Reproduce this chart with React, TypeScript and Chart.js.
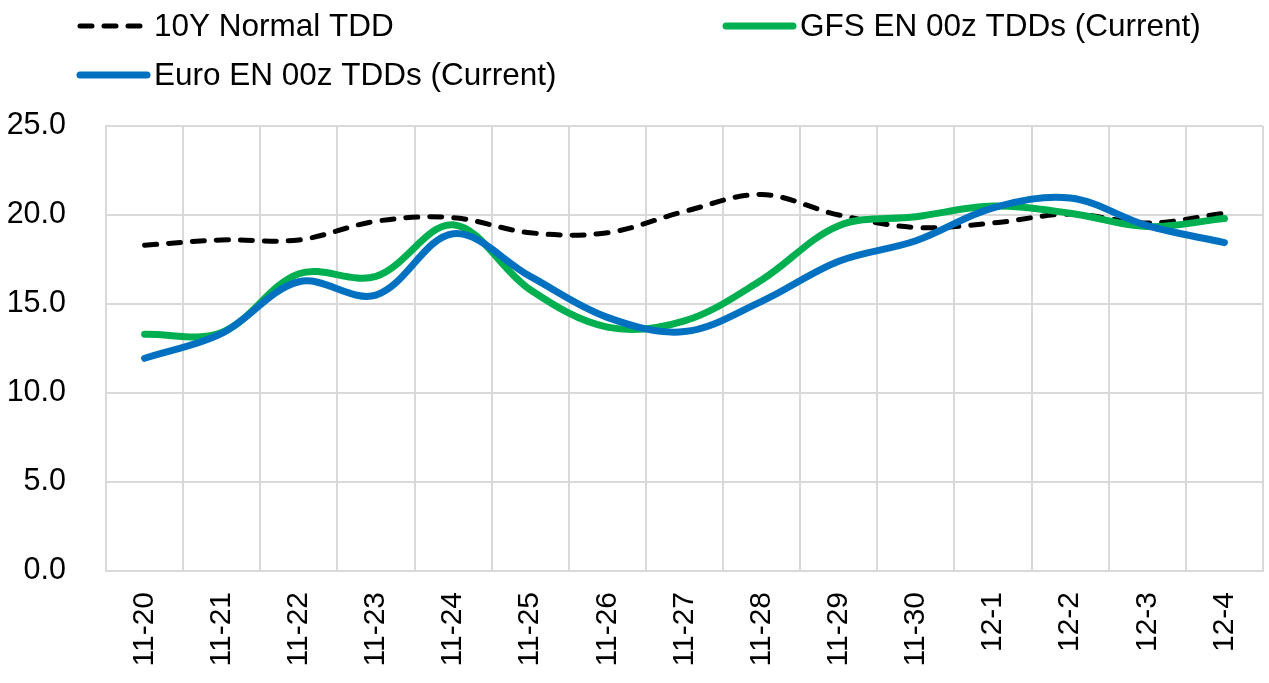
import React, { useEffect, useRef } from "react";
import { Chart, registerables } from "chart.js";

Chart.register(...registerables);

const categories = [
  "11-20", "11-21", "11-22", "11-23", "11-24", "11-25", "11-26", "11-27",
  "11-28", "11-29", "11-30", "12-1", "12-2", "12-3", "12-4",
];

const normalTDD = [18.3, 18.6, 18.6, 19.65, 19.85, 19.0, 19.0, 20.2, 21.15, 20.0, 19.3, 19.55, 20.05, 19.55, 20.1];
const gfsTDD = [13.3, 13.4, 16.7, 16.55, 19.45, 15.8, 13.7, 14.05, 16.35, 19.4, 19.9, 20.5, 20.1, 19.35, 19.8];
const euroTDD = [11.95, 13.35, 16.25, 15.5, 18.95, 16.55, 14.25, 13.45, 15.15, 17.4, 18.55, 20.4, 20.95, 19.4, 18.45];

const seriesNames = ["10Y Normal TDD", "GFS EN 00z TDDs (Current)", "Euro EN 00z TDDs (Current)"];
const yTicks = [0, 5, 10, 15, 20, 25];

const FONT = "'Liberation Sans', Arial, Helvetica, sans-serif";

const legendPlugin = {
  id: "excelLegend",
  afterDraw(chart: any, _args: any, opts: any) {
    const ctx = chart.ctx;
    const items = opts.items || [];
    ctx.save();
    items.forEach((it: any) => {
      const ds = chart.data.datasets[it.index];
      ctx.beginPath();
      ctx.strokeStyle = ds.borderColor;
      ctx.lineWidth = ds.borderWidth;
      ctx.lineCap = "round";
      ctx.setLineDash(ds.borderDash || []);
      ctx.moveTo(it.x + 3, it.y);
      ctx.lineTo(it.x + opts.lineLength, it.y);
      ctx.stroke();
      ctx.setLineDash([]);
      ctx.fillStyle = "#000";
      ctx.font = `${opts.fontSize}px ${FONT}`;
      ctx.textAlign = "left";
      ctx.textBaseline = "alphabetic";
      ctx.fillText(ds.label, it.x + opts.textGap, it.y + opts.baselineShift);
    });
    ctx.restore();
  },
};

export default function App() {
  const ref = useRef<HTMLCanvasElement | null>(null);

  useEffect(() => {
    if (!ref.current) return;
    const chart = new Chart(ref.current, {
      type: "line",
      data: {
        labels: categories,
        datasets: [
          {
            label: seriesNames[0],
            data: normalTDD,
            borderColor: "#000000",
            backgroundColor: "#000000",
            borderWidth: 5,
            borderDash: [12, 12],
            borderCapStyle: "round",
            pointRadius: 0,
            tension: 0.35,
            order: 3,
          },
          {
            label: seriesNames[1],
            data: gfsTDD,
            borderColor: "#00B050",
            backgroundColor: "#00B050",
            borderWidth: 7,
            borderCapStyle: "round",
            pointRadius: 0,
            tension: 0.35,
            order: 2,
          },
          {
            label: seriesNames[2],
            data: euroTDD,
            borderColor: "#0070C0",
            backgroundColor: "#0070C0",
            borderWidth: 7,
            borderCapStyle: "round",
            pointRadius: 0,
            tension: 0.35,
            order: 1,
          },
        ],
      },
      options: {
        responsive: true,
        maintainAspectRatio: false,
        animation: false,
        layout: { padding: { top: 126, left: 8, right: 6, bottom: 0 } },
        plugins: {
          legend: { display: false },
          tooltip: { enabled: false },
          excelLegend: {
            lineLength: 70,
            textGap: 77,
            fontSize: 31.5,
            baselineShift: 10,
            items: [
              { index: 0, x: 77, y: 26 },
              { index: 1, x: 723, y: 26 },
              { index: 2, x: 77, y: 75 },
            ],
          },
        } as any,
        scales: {
          x: {
            type: "category",
            offset: true,
            grid: { offset: true, color: "#d9d9d9", lineWidth: 2, drawTicks: false },
            border: { display: true, color: "#d9d9d9", width: 2 },
            ticks: {
              color: "#000",
              font: { family: FONT, size: 30 },
              minRotation: 90,
              maxRotation: 90,
              padding: 21,
              autoSkip: false,
            },
            afterFit: (s: any) => {
              s.height = 112;
              s.paddingLeft = 0;
              s.paddingRight = 0;
            },
          },
          y: {
            min: yTicks[0],
            max: yTicks[yTicks.length - 1],
            grid: { color: "#d9d9d9", lineWidth: 2, drawTicks: false },
            border: { display: true, color: "#d9d9d9", width: 2 },
            afterBuildTicks: (s: any) => {
              s.ticks = yTicks.map((v) => ({ value: v }));
            },
            ticks: {
              color: "#000",
              font: { family: FONT, size: 30.5 },
              padding: 40,
              callback: (v: any) => Number(v).toFixed(1),
            },
            afterFit: (s: any) => {
              s.width = 98;
            },
          },
        },
      },
      plugins: [legendPlugin],
    });
    return () => chart.destroy();
  }, []);

  return (
    <div style={{ position: "absolute", left: 0, top: 0, width: 1269, height: 683, background: "#fff" }}>
      <canvas ref={ref} />
    </div>
  );
}
